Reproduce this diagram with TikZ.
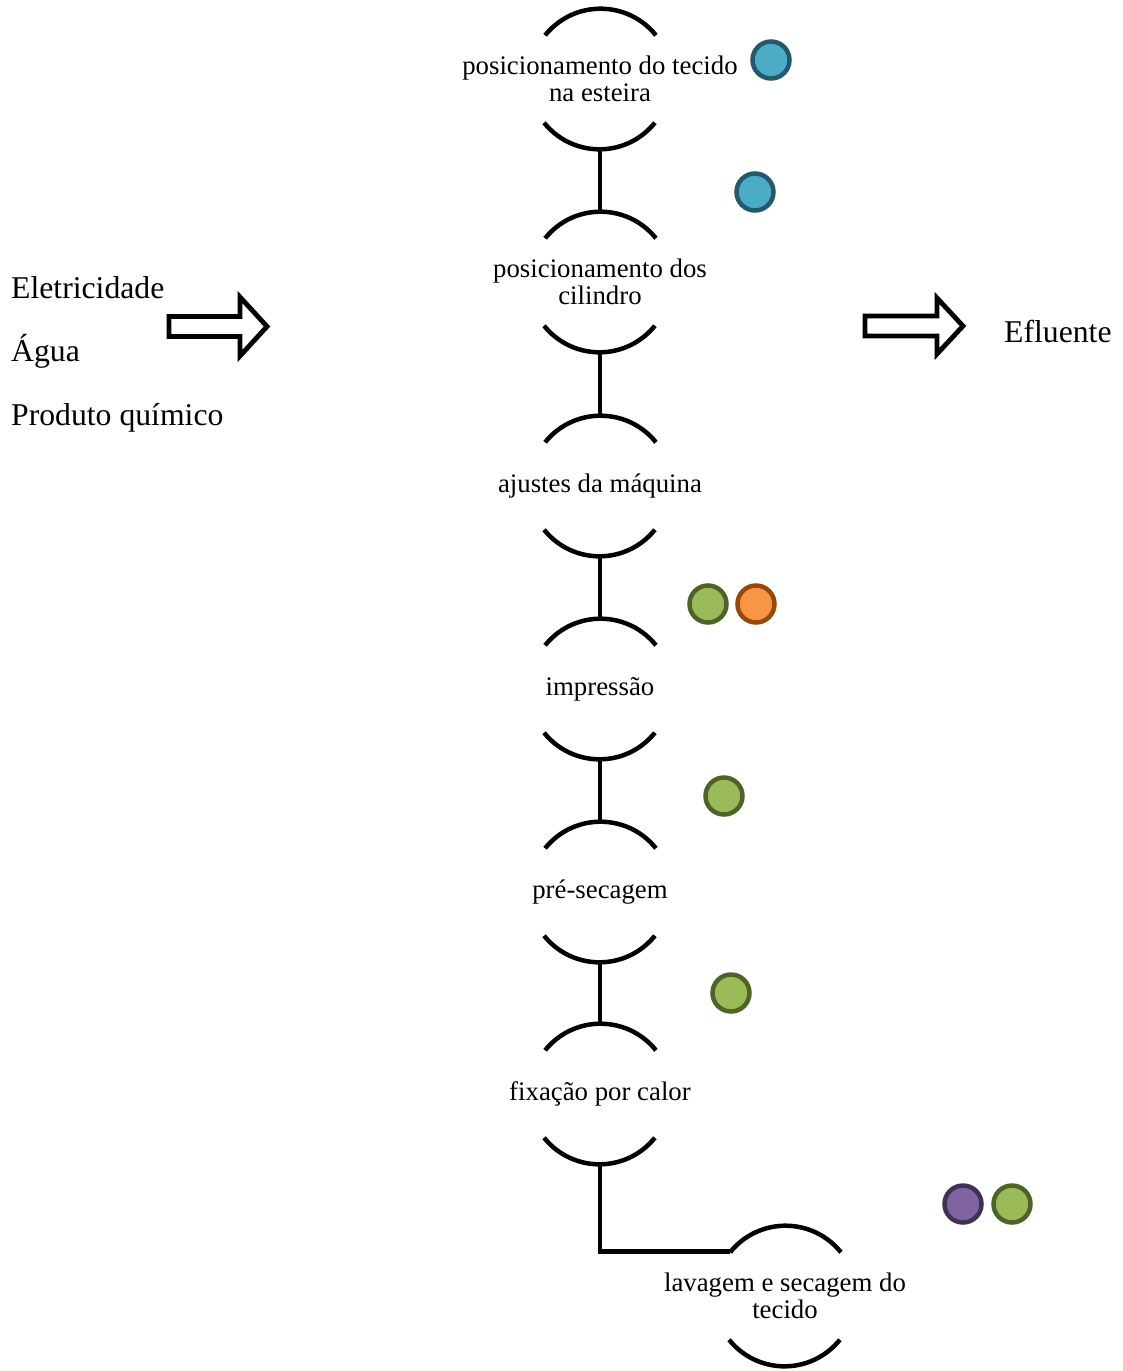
\documentclass[tikz,border=0pt]{standalone}
\usepackage{fontspec}
\setmainfont{Liberation Serif}
\definecolor{tealfill}{HTML}{4BACC6}
\definecolor{tealrim}{HTML}{23596A}
\definecolor{greenfill}{HTML}{9BBB59}
\definecolor{greenrim}{HTML}{4F6228}
\definecolor{orangefill}{HTML}{F79646}
\definecolor{orangerim}{HTML}{984807}
\definecolor{purplefill}{HTML}{8064A2}
\definecolor{purplerim}{HTML}{3F3151}
\begin{document}
\begin{tikzpicture}[x=1pt,y=1pt,
  stepnode/.style={circle, minimum size=142pt, inner sep=0pt, outer sep=0pt,
    label={[align=center, inner sep=0pt, font=\fontsize{26.8}{27}\selectfont]center:#1}},
  rim/.style={line width=4.5pt},
  link/.style={line width=4.5pt, line join=miter},
  dot/.style={circle, minimum size=37pt, inner sep=0pt, line width=4.5pt},
  tealdot/.style={dot, fill=tealfill, draw=tealrim},
  greendot/.style={dot, fill=greenfill, draw=greenrim},
  orangedot/.style={dot, fill=orangefill, draw=orangerim},
  purpledot/.style={dot, fill=purplefill, draw=purplerim},
  sidetext/.style={anchor=base west, inner sep=0pt, font=\fontsize{31.7}{32}\selectfont},
  blockarrow/.style={draw, line width=4.8pt, line join=miter, fill=white}]
\useasboundingbox (0,0) rectangle (1122,-1371);

% process steps (fixed-size circles, caption set in the middle)
\node[stepnode={posicionamento do tecido\\na esteira}] (s1) at (600,-79)   {};
\node[stepnode={posicionamento dos\\cilindro}]         (s2) at (600,-282)  {};
\node[stepnode={ajustes da máquina}]                   (s3) at (600,-486)  {};
\node[stepnode={impressão}]                            (s4) at (600,-689)  {};
\node[stepnode={pré-secagem}]                          (s5) at (600,-892)  {};
\node[stepnode={fixação por calor}]                    (s6) at (600,-1094) {};
\node[stepnode={lavagem e secagem do\\tecido}]         (s7) at (785,-1296) {};

% upper and lower rims of each step
\foreach \s in {s1,s2,s3,s4,s5,s6,s7} {
  \draw[rim] (\s.38.7) arc[start angle=38.7, end angle=141.3, radius=71pt];
  \draw[rim] (\s.218.7) arc[start angle=218.7, end angle=321.3, radius=71pt];
}

% links between steps
\draw[link] (s1.south) -- (s2.north);
\draw[link] (s2.south) -- (s3.north);
\draw[link] (s3.south) -- (s4.north);
\draw[link] (s4.south) -- (s5.north);
\draw[link] (s5.south) -- (s6.north);
\draw[link] (s6.south) |- (s7.141.3);

% markers beside the steps
\node[tealdot]   (d1)  at (771,-60)   {};
\node[tealdot]   (d2)  at (755,-192)  {};
\node[greendot]  (d3a) at (708,-604)  {};
\node[orangedot] (d3b) at (756,-604)  {};
\node[greendot]  (d4)  at (724,-796)  {};
\node[greendot]  (d5)  at (731,-993)  {};
\node[purpledot] (d6a) at (963,-1204) {};
\node[greendot]  (d6b) at (1012,-1204) {};

% inputs
\node[sidetext] (in1) at (11,-298) {Eletricidade};
\node[sidetext] (in2) at (11,-361) {Água};
\node[sidetext] (in3) at (11,-425) {Produto químico};
\coordinate (inarrow) at (169,-326.5);
\draw[blockarrow] (inarrow) ++(0,10) -- ++(71,0) -- ++(0,19.5) -- ++(27,-29.5)
  -- ++(-27,-29.5) -- ++(0,19.5) -- ++(-71,0) -- cycle;

% output
\node[sidetext] (out1) at (1004,-342) {Efluente};
\coordinate (outarrow) at (865,-326);
\draw[blockarrow] (outarrow) ++(0,10) -- ++(72,0) -- ++(0,18) -- ++(26,-28)
  -- ++(-26,-28) -- ++(0,18) -- ++(-72,0) -- cycle;
\end{tikzpicture}
\end{document}
